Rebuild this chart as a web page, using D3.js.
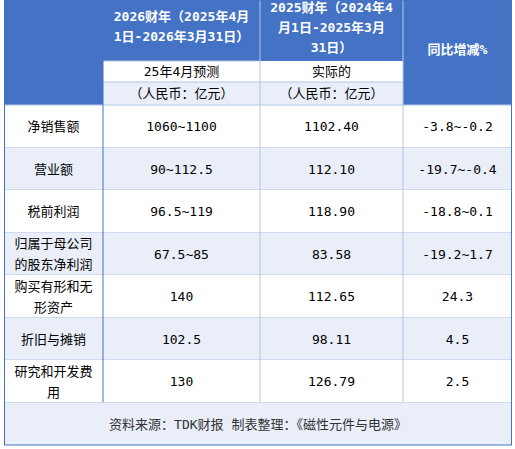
<!DOCTYPE html>
<html><head><meta charset="utf-8">
<script src="https://cdn.jsdelivr.net/npm/d3@7"></script>
<style>body{margin:0;background:#fff}text{font-family:"DejaVu Sans Mono","Noto Sans CJK SC",monospace;font-size:13px}</style>
</head><body>
<script>
const items = [["净销售额"], ["营业额"], ["税前利润"], ["归属于母公司", "的股东净利润"], ["购买有形和无", "形资产"], ["折旧与摊销"], ["研究和开发费", "用"]];
const forecast = ["1060~1100", "90~112.5", "96.5~119", "67.5~85", "140", "102.5", "130"];
const actual = ["1102.40", "112.10", "118.90", "83.58", "112.65", "98.11", "126.79"];
const yoy = ["-3.8~-0.2", "-19.7~-0.4", "-18.8~0.1", "-19.2~1.7", "24.3", "4.5", "2.5"];
const head1 = ["2026财年（2025年4月", "1日-2026年3月31日）"];
const head2 = ["2025财年（2024年4", "月1日-2025年3月", "31日）"];
const head3 = "同比增减%";
const sub1 = ["25年4月预测", "实际的"];
const sub2 = "（人民币：亿元）";
const source = "资料来源：TDK财报 制表整理：《磁性元件与电源》";

const blue = "#4472c4", light = "#e9eef8", line = "#b4c6e7";
const cols = [4, 103, 260, 403, 512];
const svg = d3.select("body").append("svg").attr("width", 515).attr("height", 449);
const y = d3.scaleLinear().domain([0, 7]).range([105, 402.5]);

// header
svg.append("rect").attr("x", 4).attr("y", 0).attr("width", 508).attr("height", 105).attr("fill", blue);
[0, 1].forEach(i => {
  svg.append("rect").attr("x", cols[i + 1]).attr("y", 61).attr("width", cols[i + 2] - cols[i + 1]).attr("height", 21).attr("fill", "#fff");
  svg.append("rect").attr("x", cols[i + 1]).attr("y", 82).attr("width", cols[i + 2] - cols[i + 1]).attr("height", 23).attr("fill", light);
  svg.append("text").attr("x", (cols[i + 1] + cols[i + 2]) / 2).attr("y", 76).attr("text-anchor", "middle").text(sub1[i]);
  svg.append("text").attr("x", (cols[i + 1] + cols[i + 2]) / 2).attr("y", 98).attr("text-anchor", "middle").text(sub2);
});
const ht = (lines, cx, y0) => lines.forEach((l, i) => svg.append("text").attr("x", cx).attr("y", y0 + i * 20)
  .attr("text-anchor", "middle").attr("fill", "#fff").attr("font-weight", "bold").text(l));
ht(head1, 181.5, 21);
ht(head2, 331.5, 12);
ht([head3], 457.5, 54);

// body rows
items.forEach((it, i) => {
  const y0 = y(i), y1 = y(i + 1), cy = (y0 + y1) / 2;
  svg.append("rect").attr("x", 4).attr("y", y0).attr("width", 508).attr("height", y1 - y0).attr("fill", i % 2 ? light : "#fff");
  it.forEach((l, k) => svg.append("text").attr("x", 53.5).attr("y", cy + 5 + (k - (it.length - 1) / 2) * 21).attr("text-anchor", "middle").text(l));
  [forecast[i], actual[i], yoy[i]].forEach((v, j) => svg.append("text").attr("x", (cols[j + 1] + cols[j + 2]) / 2).attr("y", cy + 5).attr("text-anchor", "middle").text(v));
  svg.append("line").attr("x1", 4).attr("x2", 512).attr("y1", y1).attr("y2", y1).attr("stroke", line);
});
svg.append("line").attr("x1", 4).attr("x2", 512).attr("y1", 105).attr("y2", 105).attr("stroke", line);
[260, 403].forEach(x => svg.append("line").attr("x1", x).attr("x2", x).attr("y1", 0).attr("y2", 402.5).attr("stroke", line));
svg.append("line").attr("x1", 103).attr("x2", 260).attr("y1", 61).attr("y2", 61).attr("stroke", line);
svg.append("line").attr("x1", 103).attr("x2", 403).attr("y1", 82).attr("y2", 82).attr("stroke", line);
svg.append("line").attr("x1", 103).attr("x2", 103).attr("y1", 0).attr("y2", 402.5).attr("stroke", blue);

// footer
svg.append("rect").attr("x", 4).attr("y", 402.5).attr("width", 508).attr("height", 42.5).attr("fill", light);
svg.append("text").attr("x", 258).attr("y", 429).attr("text-anchor", "middle").attr("fill", "#333").text(source);
svg.append("rect").attr("x", 4.5).attr("y", 0).attr("width", 507).attr("height", 445).attr("fill", "none").attr("stroke", blue);
</script>
</body></html>
